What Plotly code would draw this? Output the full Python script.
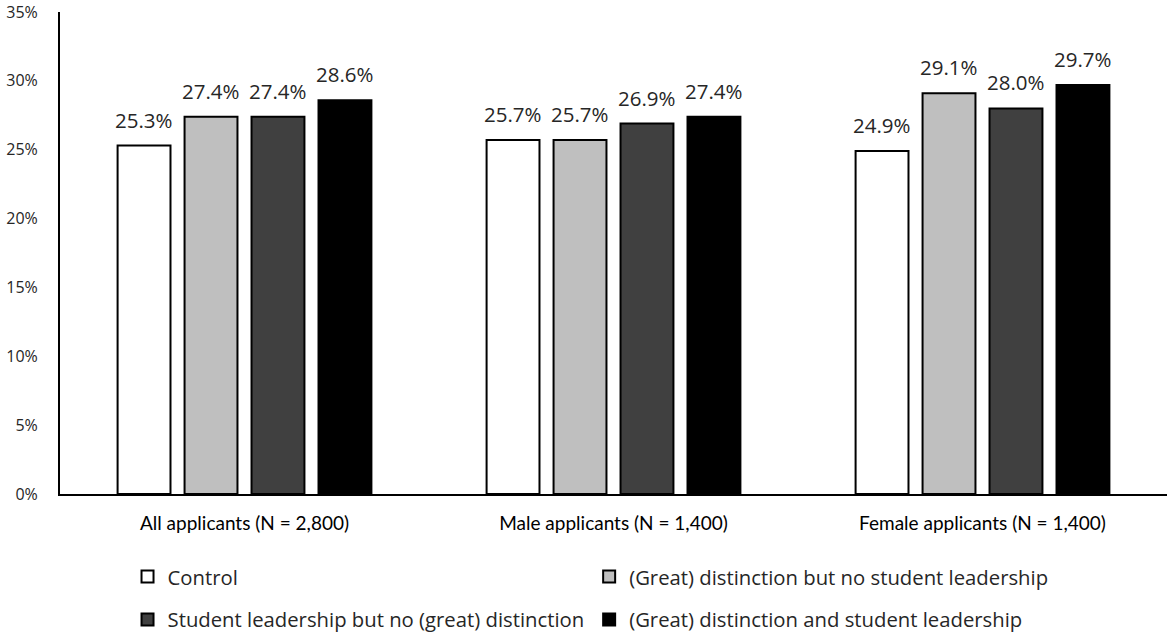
import plotly.graph_objects as go

groups = ["All applicants (N = 2,800)", "Male applicants (N = 1,400)", "Female applicants (N = 1,400)"]
series_names = [
    "Control",
    "(Great) distinction but no student leadership",
    "Student leadership but no (great) distinction",
    "(Great) distinction and student leadership",
]
control = [25.3, 25.7, 24.9]
distinction = [27.4, 25.7, 29.1]
leadership = [27.4, 26.9, 28.0]
both = [28.6, 27.4, 29.7]
colors = ["#ffffff", "#bfbfbf", "#404040", "#000000"]
y_ticks = [0, 5, 10, 15, 20, 25, 30, 35]

W, H = 1167, 634
ML, MR, MT, MB = 60, 0, 12, 140
BARGAP = 0.274

label_font = dict(family="Open Sans, Segoe UI, sans-serif", size=20.5, color="#262626")
legend_font = dict(family="Open Sans, Segoe UI, sans-serif", size=20.3, color="#262626")

# legend slot (column x, row y) for each series, in paper fractions
legend_x = [0.061, 0.478, 0.061, 0.478]
legend_y = [-0.172, -0.172, -0.261, -0.261]
legend_ids = ["legend", "legend2", "legend3", "legend4"]

fig = go.Figure()
all_vals = [control, distinction, leadership, both]
n = len(all_vals)
step_px = (W - ML - MR) / len(groups) * (1 - BARGAP) / n
for i, (name, vals, col) in enumerate(zip(series_names, all_vals, colors)):
    fig.add_trace(go.Bar(
        x=groups, y=vals, name=name,
        marker=dict(color=col, line=dict(color="#000000", width=2)),
        legend=legend_ids[i],
        hoverinfo="skip",
    ))
    for g, v in zip(groups, vals):
        fig.add_annotation(
            x=g, y=v, text=f"{v:.1f}%", showarrow=False,
            xshift=(i - (n - 1) / 2) * step_px, yshift=10, yanchor="bottom",
            font=label_font,
        )

legends = {}
for i, lid in enumerate(legend_ids):
    legends[lid] = dict(orientation="h", x=legend_x[i], y=legend_y[i],
                        xanchor="left", yanchor="middle", font=legend_font,
                        itemwidth=30, bgcolor="rgba(0,0,0,0)")

fig.update_layout(
    width=W, height=H,
    margin=dict(l=ML, r=MR, t=MT, b=MB, autoexpand=False),
    plot_bgcolor="white", paper_bgcolor="white",
    barmode="group", bargap=BARGAP, bargroupgap=0.21,
    showlegend=True,
    font=dict(family="Open Sans, Segoe UI, sans-serif", color="#262626"),
    **legends,
)
fig.update_xaxes(
    showline=True, linecolor="#000000", linewidth=2,
    tickfont=dict(family="Lato, Liberation Sans, sans-serif", size=19, color="#000000"),
    ticks="", showgrid=False, automargin=False, ticklabelstandoff=11,
)
fig.update_yaxes(
    range=[0, 35], tickvals=y_ticks, ticktext=[f"{t}%" for t in y_ticks],
    showline=True, linecolor="#000000", linewidth=2,
    showgrid=False, zeroline=False, ticks="", automargin=False,
    ticklabelstandoff=17,
    tickfont=dict(family="Open Sans, Segoe UI, sans-serif", size=16, color="#262626"),
)

fig.write_html("out.html", config={"displayModeBar": False},
               post_script="document.body.style.margin='0';")
